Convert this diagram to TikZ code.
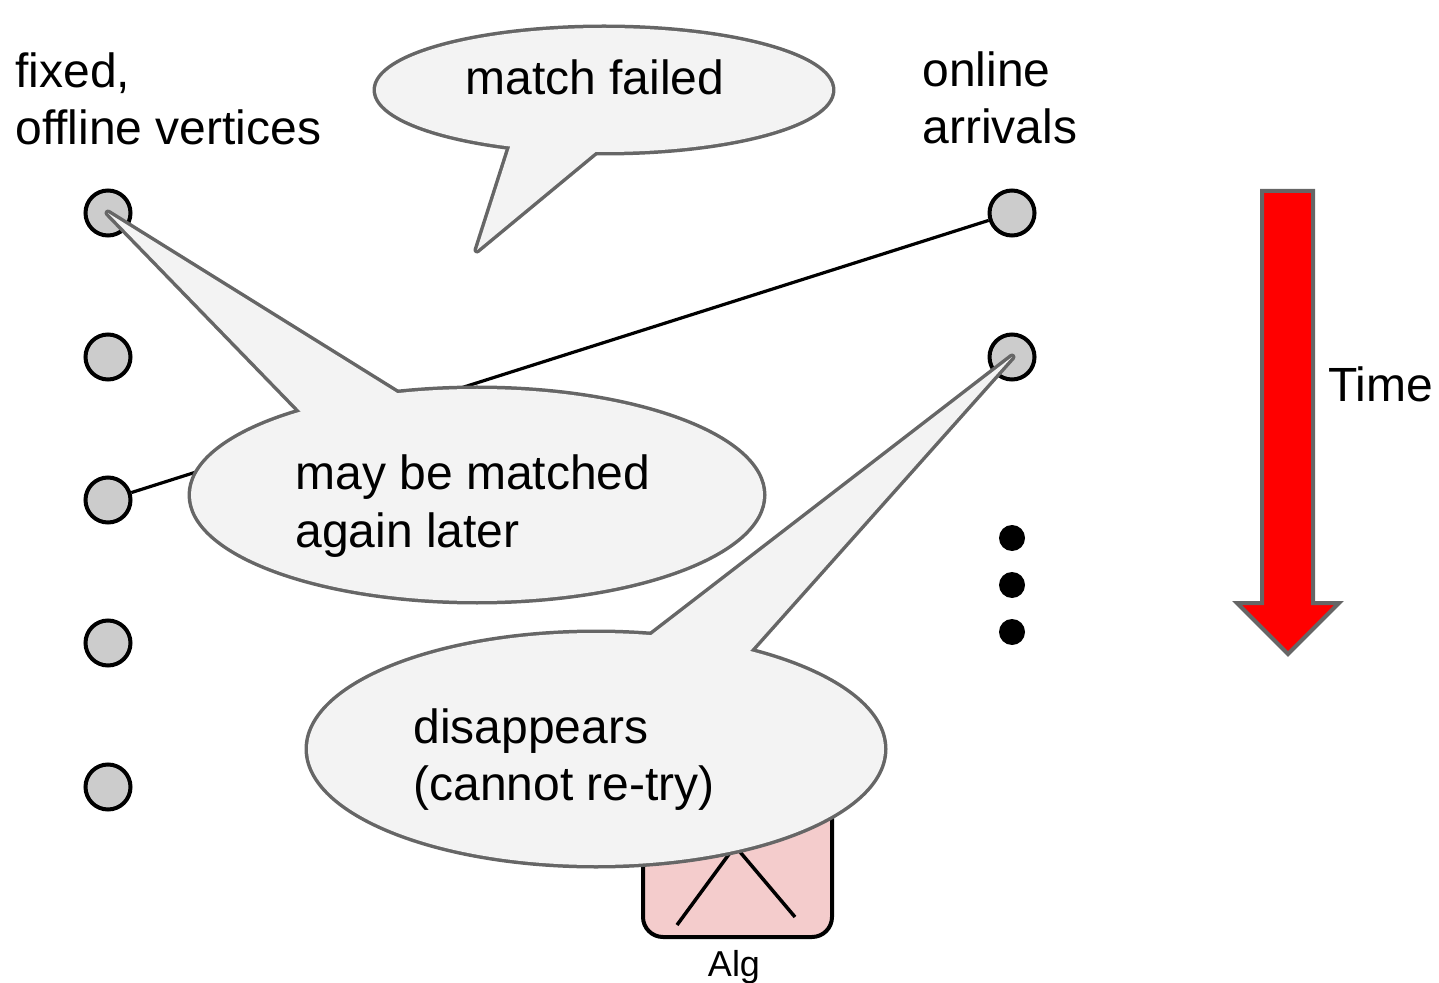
\documentclass[tikz,border=0pt]{standalone}
\usepackage{fontspec}
\setmainfont{Liberation Sans}
\usetikzlibrary{shapes.geometric,calc}

\definecolor{bubblefill}{HTML}{F3F3F3}
\definecolor{bubbleline}{HTML}{666666}
\definecolor{vertexfill}{HTML}{CCCCCC}
\definecolor{algfill}{HTML}{F4CCCC}

% speech bubble: name, centre, x radius, y radius, tip, tail base 1, tail base 2
% the outline is stroked at double width, then the body is refilled on top,
% so only the outer half of the stroke shows and the seam disappears
\newcommand\speechbubble[7]{%
  \node[bubbleshape, bubbleedge, minimum width=2*#3, minimum height=2*#4] (#1) at #2 {};
  \draw[bubbleedge] ($#5!1.2!#6$) -- #5 -- ($#5!1.2!#7$) -- cycle;
  \fill[bubblefill] (#1.center) ellipse [x radius=#3, y radius=#4];
  \fill[bubblefill] ($#5!1.2!#6$) -- #5 -- ($#5!1.2!#7$) -- cycle;
}

\begin{document}
\begin{tikzpicture}[x=0.5pt, y=-0.5pt,
  vertex/.style={circle, draw=black, fill=vertexfill, line width=2pt,
    minimum size=22.5pt, inner sep=0pt},
  dot/.style={circle, fill=black, minimum size=13pt, inner sep=0pt},
  edge/.style={draw=black, line width=1.6pt},
  txt/.style={anchor=base west, inner sep=0pt, font=\fontsize{24}{28}\selectfont},
  bubbleshape/.style={ellipse, inner sep=0pt},
  bubbleedge/.style={draw=bubbleline, line width=3.5pt, line join=round},
  algbox/.style={draw=black, fill=algfill, line width=2pt, rounded corners=10pt,
    minimum width=94.5pt, minimum height=73.5pt, inner sep=0pt},
  timearrow/.style={draw=bubbleline, fill=red, line width=2pt},
]
\useasboundingbox (0,0) rectangle (1439,983);

% offline vertices
\node[vertex] (l1) at (108,213) {};
\node[vertex] (l2) at (108,357) {};
\node[vertex] (l3) at (108,500) {};
\node[vertex] (l4) at (108,643) {};
\node[vertex] (l5) at (108,787) {};

% online arrivals
\node[vertex] (r1) at (1012,213) {};
\node[vertex] (r2) at (1012,357) {};
\node[dot] (d1) at (1012,538) {};
\node[dot] (d2) at (1012,585) {};
\node[dot] (d3) at (1012,632) {};

% matching edge
\draw[edge] (l3) -- (r1);

% algorithm box
\node[algbox] (alg) at (737.5,863.5) {};
\draw[line width=1.75pt] (677,925) -- (735,846) -- (795,917);
\node[anchor=base, inner sep=0pt, font=\fontsize{18}{20}\selectfont] (algname) at (734,976) {Alg};

% time arrow
\draw[timearrow] (1262,191) -- (1313,191) -- (1313,603) -- (1339,603)
  -- (1288,654) -- (1237,603) -- (1262,603) -- cycle;
\node[txt] (time) at (1328,402) {Time};

% column headings
\node[txt] (fixed1) at (15,88) {fixed,};
\node[txt] (fixed2) at (15,145) {offline vertices};
\node[txt] (online1) at (922,87) {online};
\node[txt] (online2) at (922,144) {arrivals};

% callouts
\coordinate (mftip) at (477,250);
\speechbubble{mf}{(604,90)}{114pt}{31pt}{(mftip)}{(510,147)}{(593,154)}
\node[txt] (mftext) at (465,95) {match failed};

\speechbubble{again}{(477,495)}{143pt}{53pt}{(l1.center)}{(305,416)}{(402,396)}
\node[txt] (again1) at (295,489) {may be matched};
\node[txt] (again2) at (295,547) {again later};

\speechbubble{gone}{(596,749)}{144pt}{58pt}{(r2.center)}{(650,636)}{(750,651)}
\node[txt] (gone1) at (413,743) {disappears};
\node[txt] (gone2) at (413,800) {(cannot re-try)};

\end{tikzpicture}
\end{document}
